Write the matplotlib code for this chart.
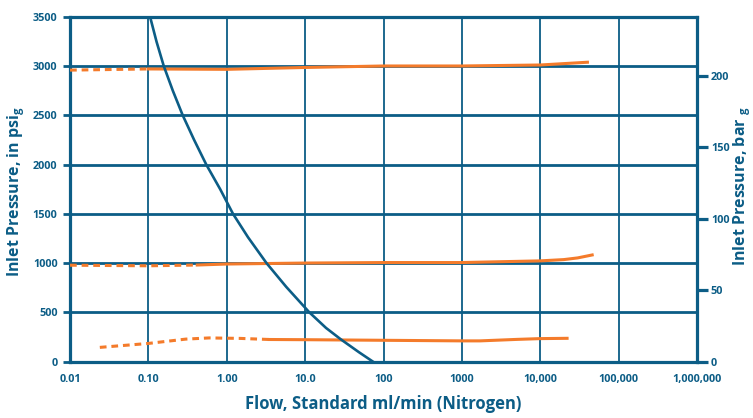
import matplotlib
matplotlib.use("Agg")
import matplotlib.pyplot as plt
import numpy as np

# flow vs. inlet pressure
blue_flow = [0.105, 0.127, 0.157, 0.205, 0.274, 0.383, 0.547, 0.826, 1.2, 1.87,
             3.21, 5.74, 11.3, 18.5, 28.6, 48.6, 73.1]
blue_psi = [3500, 3247, 3000, 2749, 2500, 2250, 2000, 1748, 1500, 1261,
            1000, 758, 500, 341, 225, 95, 0]

top_dash_flow = [0.01, 0.1]
top_dash_psi = [2958, 2970]
top_flow = [0.1, 1.0, 10, 100, 1000, 10000, 40000]
top_psi = [2970, 2966, 2985, 3000, 3000, 3010, 3038]

mid_dash_flow = [0.01, 0.1, 0.42]
mid_dash_psi = [978, 972, 980]
mid_flow = [0.42, 1.0, 10, 100, 1000, 10000, 20000, 30000, 46000]
mid_psi = [980, 990, 1000, 1005, 1005, 1022, 1035, 1052, 1082]

low_dash_flow = [0.024, 0.1, 0.3, 0.6, 1.5, 3.5]
low_dash_psi = [144, 184, 228, 240, 235, 224]
low_flow = [3.5, 10, 100, 1000, 1700, 5000, 10000, 22000]
low_psi = [224, 222, 216, 210, 210, 225, 233, 236]

x_ticks = [0.01, 0.1, 1, 10, 100, 1000, 10000, 100000, 1000000]
x_labels = ['0.01', '0.10', '1.00', '10.0', '100', '1000', '10,000', '100,000', '1,000,000']
psi_ticks = [0, 500, 1000, 1500, 2000, 2500, 3000, 3500]
bar_ticks = [0, 50, 100, 150, 200]

BLUE = '#0c5d86'
ORANGE = '#f47b2b'
PSI_PER_BAR = 14.5038

plt.rcParams['font.family'] = ['Open Sans', 'DejaVu Sans']
plt.rcParams['mathtext.default'] = 'regular'

fig = plt.figure(figsize=(7.53, 4.18), dpi=100)
ax = fig.add_axes([0.093, 0.135, 0.8326, 0.825])

ax.set_xscale('log')
ax.set_xlim(0.01, 1e6)
ax.set_ylim(0, 3500)

# grid
for x in x_ticks[1:-1]:
    ax.axvline(x, color=BLUE, lw=1.3, zorder=1)
for y in psi_ticks[1:-1]:
    ax.axhline(y, color=BLUE, lw=2.0, zorder=1)

for s in ax.spines.values():
    s.set_color(BLUE)
    s.set_linewidth(2.3)

ax.set_xticks(x_ticks)
ax.set_xticklabels(x_labels)
ax.xaxis.set_minor_locator(matplotlib.ticker.NullLocator())
ax.tick_params(axis='x', length=0, pad=9, labelsize=7.8, labelcolor=BLUE)
ax.set_yticks(psi_ticks)
ax.set_yticklabels([str(v) for v in psi_ticks])
ax.tick_params(axis='y', length=5, width=2.0, color=BLUE, pad=4, labelsize=7.8, labelcolor=BLUE)
for t in ax.yaxis.get_major_ticks():
    if t.get_loc() in (0, 3500):
        t.tick1line.set_visible(False)
for lbl in ax.get_xticklabels() + ax.get_yticklabels():
    lbl.set_fontweight('bold')

# curves
ax.plot(blue_flow, blue_psi, color=BLUE, lw=1.9, zorder=4, solid_joinstyle='round')
dash = (0, (2.2, 1.6))
ax.plot(top_dash_flow, top_dash_psi, color=ORANGE, lw=2.2, ls=dash, zorder=3)
ax.plot(top_flow, top_psi, color=ORANGE, lw=2.2, zorder=3)
ax.plot(mid_dash_flow, mid_dash_psi, color=ORANGE, lw=2.2, ls=dash, zorder=3)
ax.plot(mid_flow, mid_psi, color=ORANGE, lw=2.2, zorder=3)
ax.plot(low_dash_flow, low_dash_psi, color=ORANGE, lw=2.2, ls=dash, zorder=3)
ax.plot(low_flow, low_psi, color=ORANGE, lw=2.2, zorder=3)

# right axis in bar
ax2 = ax.twinx()
ax2.set_ylim(0, 3500 / PSI_PER_BAR)
ax2.set_yticks(bar_ticks)
ax2.set_yticklabels([str(v) for v in bar_ticks])
for s in ax2.spines.values():
    s.set_visible(False)
ax2.tick_params(axis='y', length=8, width=2.3, color=BLUE, pad=2, labelsize=7.8, labelcolor=BLUE)
for lbl in ax2.get_yticklabels():
    lbl.set_fontweight('bold')

# axis titles placed in figure pixels
W, H = 753, 418
fig.text(383 / W, 1 - 404 / H, 'Flow, Standard ml/min (Nitrogen)', fontsize=12,
         fontweight='bold', color=BLUE, ha='center', va='center')
fig.text(16 / W, 1 - 192 / H, r'Inlet Pressure, in psi$_{g}$', fontsize=11.5,
         fontweight='bold', color=BLUE, ha='center', va='center', rotation=90)
fig.text(742 / W, 1 - 186 / H, r'Inlet Pressure, bar $_{g}$', fontsize=11.5,
         fontweight='bold', color=BLUE, ha='center', va='center', rotation=90)

fig.savefig('out.png', dpi=100)
